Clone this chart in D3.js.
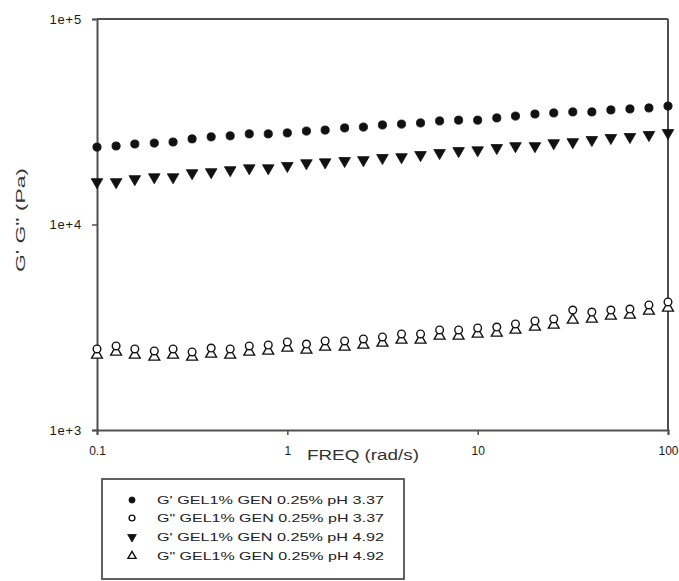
<!DOCTYPE html>
<html>
<head>
<meta charset="utf-8">
<script src="https://cdn.jsdelivr.net/npm/d3@7"></script>
<style>
  html, body { margin: 0; padding: 0; background: #fff; }
  svg { display: block; font-family: Arial, "Liberation Sans", sans-serif; }
</style>
</head>
<body>
<svg id="chart" width="679" height="581"></svg>
<script>
// Frequency sweep: 10 points per decade from 0.1 to 100 rad/s
const freq = [0.1, 0.126, 0.158, 0.2, 0.251, 0.316, 0.398, 0.501, 0.631, 0.794,
  1, 1.26, 1.58, 2, 2.51, 3.16, 3.98, 5.01, 6.31, 7.94,
  10, 12.6, 15.8, 20, 25.1, 31.6, 39.8, 50.1, 63.1, 79.4, 100];

// G' and G'' (Pa) for GEL 1% / GEN 0.25% at two pH values
const gPrime337 = [23800, 24100, 24650, 24900, 25200, 26100, 26700, 27000, 27600, 27600,
  27900, 28500, 28800, 29500, 29800, 30500, 30800, 31200, 31900, 32200,
  32200, 33000, 33700, 34500, 34900, 35300, 35300, 36100, 36500, 36900, 37700];
const gDouble337 = [2479, 2564, 2479, 2424, 2479, 2397, 2506, 2479, 2564, 2592,
  2681, 2620, 2711, 2711, 2773, 2836, 2933, 2933, 3067, 3067,
  3136, 3171, 3280, 3392, 3469, 3836, 3751, 3836, 3879, 4058, 4197];
const gPrime492 = [16100, 16100, 16650, 17000, 17000, 17800, 18000, 18400, 18800, 18800,
  19300, 19900, 20100, 20400, 20600, 21100, 21300, 21800, 22300, 22800,
  23000, 23600, 24100, 24100, 24900, 25200, 25800, 26400, 26700, 27300, 27900];
const gDouble492 = [2317, 2397, 2317, 2266, 2317, 2266, 2343, 2317, 2397, 2424,
  2506, 2451, 2535, 2535, 2592, 2651, 2742, 2742, 2868, 2868,
  2933, 2965, 3067, 3171, 3243, 3430, 3469, 3587, 3627, 3793, 3924];

const xTicks = [0.1, 1, 10, 100];
const xTickLabels = ["0.1", "1", "10", "100"];
const yTicks = [1e3, 1e4, 1e5];
const yTickLabels = ["1e+3", "1e+4", "1e+5"];

const seriesNames = [
  "G' GEL1% GEN 0.25% pH 3.37",
  "G\" GEL1% GEN 0.25% pH 3.37",
  "G' GEL1% GEN 0.25% pH 4.92",
  "G\" GEL1% GEN 0.25% pH 4.92"
];

const series = [
  { name: seriesNames[0], values: gPrime337, shape: "circle", filled: true },
  { name: seriesNames[1], values: gDouble337, shape: "circle", filled: false },
  { name: seriesNames[2], values: gPrime492, shape: "triDown", filled: true },
  { name: seriesNames[3], values: gDouble492, shape: "triUp", filled: false }
];

const svg = d3.select("#chart");
const plotLeft = 97, plotRight = 668, plotTop = 19, plotBottom = 430;

const x = d3.scaleLog().domain([0.1, 100]).range([plotLeft, plotRight]);
const y = d3.scaleLog().domain([1e3, 1e5]).range([plotBottom, plotTop]);

const axisColor = "#505050";

// Frame top and right
svg.append("line").attr("x1", plotLeft).attr("x2", plotRight).attr("y1", plotTop).attr("y2", plotTop)
  .attr("stroke", axisColor).attr("stroke-width", 2);
svg.append("line").attr("x1", plotRight).attr("x2", plotRight).attr("y1", plotTop).attr("y2", plotBottom)
  .attr("stroke", axisColor).attr("stroke-width", 2);

const xAxis = svg.append("g").attr("transform", `translate(0,${plotBottom})`)
  .call(d3.axisBottom(x).tickValues(xTicks)
    .tickFormat((d, i) => xTickLabels[i]).tickSize(5).tickPadding(11));
const yAxis = svg.append("g").attr("transform", `translate(${plotLeft},0)`)
  .call(d3.axisLeft(y).tickValues(yTicks)
    .tickFormat((d, i) => yTickLabels[i]).tickSize(5).tickPadding(10));

[xAxis, yAxis].forEach(g => {
  g.select(".domain").attr("stroke", axisColor).attr("stroke-width", 2);
  g.selectAll(".tick line").attr("stroke", axisColor).attr("stroke-width", 1.5);
  g.selectAll(".tick text").attr("fill", "#1a1a1a").attr("font-size", 13)
    .attr("font-family", "Arial, 'Liberation Sans', sans-serif");
});
yAxis.selectAll(".tick text").attr("letter-spacing", "0.8px");
xAxis.selectAll(".tick text").attr("font-size", 12);

// Axis titles
svg.append("text").attr("x", 307).attr("y", 460)
  .attr("font-size", 14).attr("fill", "#333")
  .attr("textLength", 112).attr("lengthAdjust", "spacingAndGlyphs")
  .text("FREQ (rad/s)");

svg.append("text")
  .attr("transform", "translate(25,220) rotate(-90)")
  .attr("text-anchor", "middle").attr("font-size", 13).attr("fill", "#333")
  .attr("textLength", 104).attr("lengthAdjust", "spacingAndGlyphs")
  .text("G'  G\" (Pa)");

// Marker symbols
function symbolPath(shape, size) {
  if (shape === "circle") return d3.symbol().type(d3.symbolCircle).size(size)();
  return d3.symbol().type(d3.symbolTriangle).size(size * 1.1)();
}
function drawMarker(g, s, cx, cy, size) {
  return g.append("path")
    .attr("d", symbolPath(s.shape, s.filled ? size * 1.15 : size))
    .attr("transform", `translate(${cx},${cy})` + (s.shape === "triDown" ? " rotate(180)" : ""))
    .attr("fill", s.filled ? "#111" : "#fff")
    .attr("stroke", "#111")
    .attr("stroke-width", s.filled ? 0.8 : 1.4);
}

// Draw open series first, filled on top; triangles up under circles
const drawOrder = [3, 1, 2, 0];
drawOrder.forEach(si => {
  const s = series[si];
  const g = svg.append("g");
  s.values.forEach((v, i) => {
    drawMarker(g, s, x(freq[i]), y(v), 46);
  });
});

// Legend
const legend = svg.append("g");
legend.append("rect").attr("x", 102).attr("y", 479).attr("width", 302).attr("height", 100)
  .attr("fill", "#fff").attr("stroke", "#505050").attr("stroke-width", 1.8);
const rowY = [500, 518, 537, 556];
series.forEach((s, i) => {
  drawMarker(legend, s, 132, rowY[i], 26);
  legend.append("text").attr("x", 157).attr("y", rowY[i] + 4)
    .attr("font-size", 11).attr("fill", "#222")
    .attr("textLength", 227).attr("lengthAdjust", "spacingAndGlyphs")
    .text(s.name);
});
</script>
</body>
</html>
